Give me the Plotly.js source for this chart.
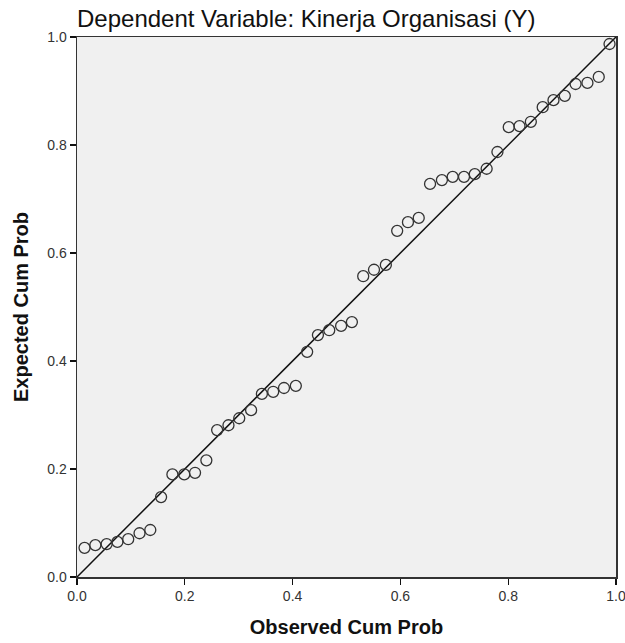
<!DOCTYPE html>
<html>
<head>
<meta charset="utf-8">
<script src="https://cdn.plot.ly/plotly-3.0.1.min.js"></script>
<style>html,body{margin:0;padding:0;background:#fff;}#chart{width:625px;height:643px;}</style>
</head>
<body>
<div id="chart"></div>
<script>
var observedCumProb = [0.014,0.034,0.055,0.075,0.095,0.116,0.136,0.156,0.177,0.199,0.219,0.240,
  0.260,0.281,0.301,0.323,0.343,0.364,0.384,0.406,0.427,0.447,0.468,0.490,0.510,0.531,0.551,0.573,
  0.594,0.614,0.634,0.655,0.677,0.697,0.718,0.738,0.760,0.780,0.801,0.821,0.842,0.864,0.884,0.905,
  0.925,0.947,0.968,0.988];
var expectedCumProb = [0.054,0.059,0.061,0.065,0.070,0.081,0.087,0.148,0.190,0.190,0.193,0.216,
  0.272,0.281,0.294,0.309,0.339,0.343,0.350,0.354,0.417,0.448,0.457,0.465,0.472,0.557,0.569,0.578,
  0.641,0.657,0.665,0.728,0.735,0.741,0.741,0.746,0.756,0.787,0.833,0.835,0.843,0.870,0.883,0.891,
  0.913,0.915,0.926,0.987];
var refLine = [0, 1];
var tickVals = [0, 0.2, 0.4, 0.6, 0.8, 1.0];
var tickText = ["0.0", "0.2", "0.4", "0.6", "0.8", "1.0"];

var font = "Liberation Sans, Arial, sans-serif";
var traces = [
  {x: refLine, y: refLine, mode: "lines", type: "scatter",
   line: {color: "#111", width: 1.5}, hoverinfo: "skip"},
  {x: observedCumProb, y: expectedCumProb, mode: "markers", type: "scatter",
   marker: {symbol: "circle-open", size: 11, color: "#333", line: {width: 1.3, color: "#333"}}}
];
var axisCommon = {
  range: [0, 1], tickmode: "array", tickvals: tickVals, ticktext: tickText,
  ticks: "outside", ticklen: 6, tickwidth: 1.2, tickcolor: "#111",
  showline: true, linecolor: "#333", linewidth: 1.5, mirror: true,
  showgrid: false, zeroline: false, fixedrange: true,
  ticklabeloverflow: "allow",
  tickfont: {family: font, size: 14, color: "#333"}
};
var layout = {
  width: 625, height: 643,
  margin: {l: 76.5, r: 8.5, t: 37, b: 66},
  paper_bgcolor: "#ffffff", plot_bgcolor: "#f0f0f0",
  showlegend: false,
  title: {text: "Dependent Variable: Kinerja Organisasi (Y)", x: 0, xref: "paper", xanchor: "left",
          y: 0.971, yref: "container", yanchor: "middle",
          font: {family: font, size: 24, color: "#111"}},
  xaxis: Object.assign({}, axisCommon, {
    title: {text: "<b>Observed Cum Prob</b>", standoff: 16, font: {family: font, size: 20, color: "#111"}}
  }),
  yaxis: Object.assign({}, axisCommon, {
    title: {text: "<b>Expected Cum Prob</b>", standoff: 13, font: {family: font, size: 20, color: "#111"}}
  })
};
Plotly.newPlot("chart", traces, layout, {displayModeBar: false, staticPlot: true});
</script>
</body>
</html>
